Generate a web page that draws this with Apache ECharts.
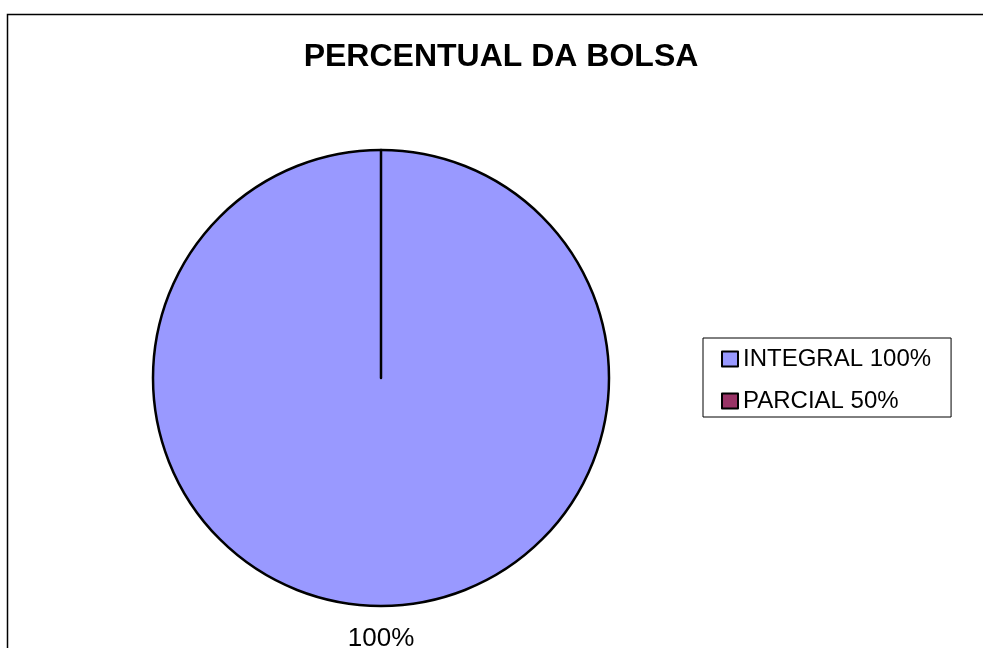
<!DOCTYPE html>
<html>
<head>
<meta charset="utf-8">
<script src="https://cdn.jsdelivr.net/npm/echarts@6/dist/echarts.min.js"></script>
<style>
  html, body { margin: 0; padding: 0; background: #fff; }
  #chart { width: 983px; height: 648px; }
</style>
</head>
<body>
<div id="chart"></div>
<script>
// Bolsa categories and their shares
const categories = ['INTEGRAL 100%', 'PARCIAL 50%'];
const values = [100, 0];
const colors = ['#9999FF', '#993366'];

const chart = echarts.init(document.getElementById('chart'), null, { renderer: 'canvas' });

const pieData = categories.map((name, i) => ({
  name: name,
  value: values[i],
  itemStyle: { color: colors[i] },
  label: { show: values[i] > 0 }
}));

chart.setOption({
  animation: false,
  backgroundColor: '#fff',
  title: {
    text: 'PERCENTUAL DA BOLSA',
    left: 496,
    top: 36,
    textAlign: 'center',
    textStyle: {
      fontFamily: 'Liberation Sans, Arial, sans-serif',
      fontWeight: 'bold',
      fontSize: 32,
      color: '#000'
    }
  },
  legend: {
    orient: 'vertical',
    left: 703,
    top: 338,
    padding: [9, 20, 4, 18],
    itemGap: 18,
    itemWidth: 16,
    itemHeight: 15,
    borderColor: '#000',
    borderWidth: 1,
    backgroundColor: '#fff',
    icon: 'rect',
    itemStyle: { borderColor: '#000', borderWidth: 2 },
    textStyle: {
      fontFamily: 'Liberation Sans, Arial, sans-serif',
      fontSize: 24,
      color: '#000',
      padding: [0, 0, 0, 0]
    },
    data: categories
  },
  graphic: [{
    type: 'rect',
    silent: true,
    shape: { x: 7.5, y: 14.5, width: 1000, height: 700 },
    style: { fill: 'none', stroke: '#000', lineWidth: 1.5 }
  }],
  series: [{
    type: 'pie',
    center: [381, 378],
    radius: 228,
    startAngle: 90,
    clockwise: true,
    minAngle: 0,
    avoidLabelOverlap: false,
    data: pieData,
    itemStyle: { borderColor: '#000', borderWidth: 2.5 },
    label: {
      position: 'outside',
      formatter: '{d}%',
      distanceToLabelLine: 0,
      fontFamily: 'Liberation Sans, Arial, sans-serif',
      fontSize: 26,
      color: '#000'
    },
    labelLine: { show: false, length: 33, length2: 0 },
    labelLayout: function () {
      return { align: 'center' };
    },
    emphasis: { disabled: true }
  }]
});
</script>
</body>
</html>
